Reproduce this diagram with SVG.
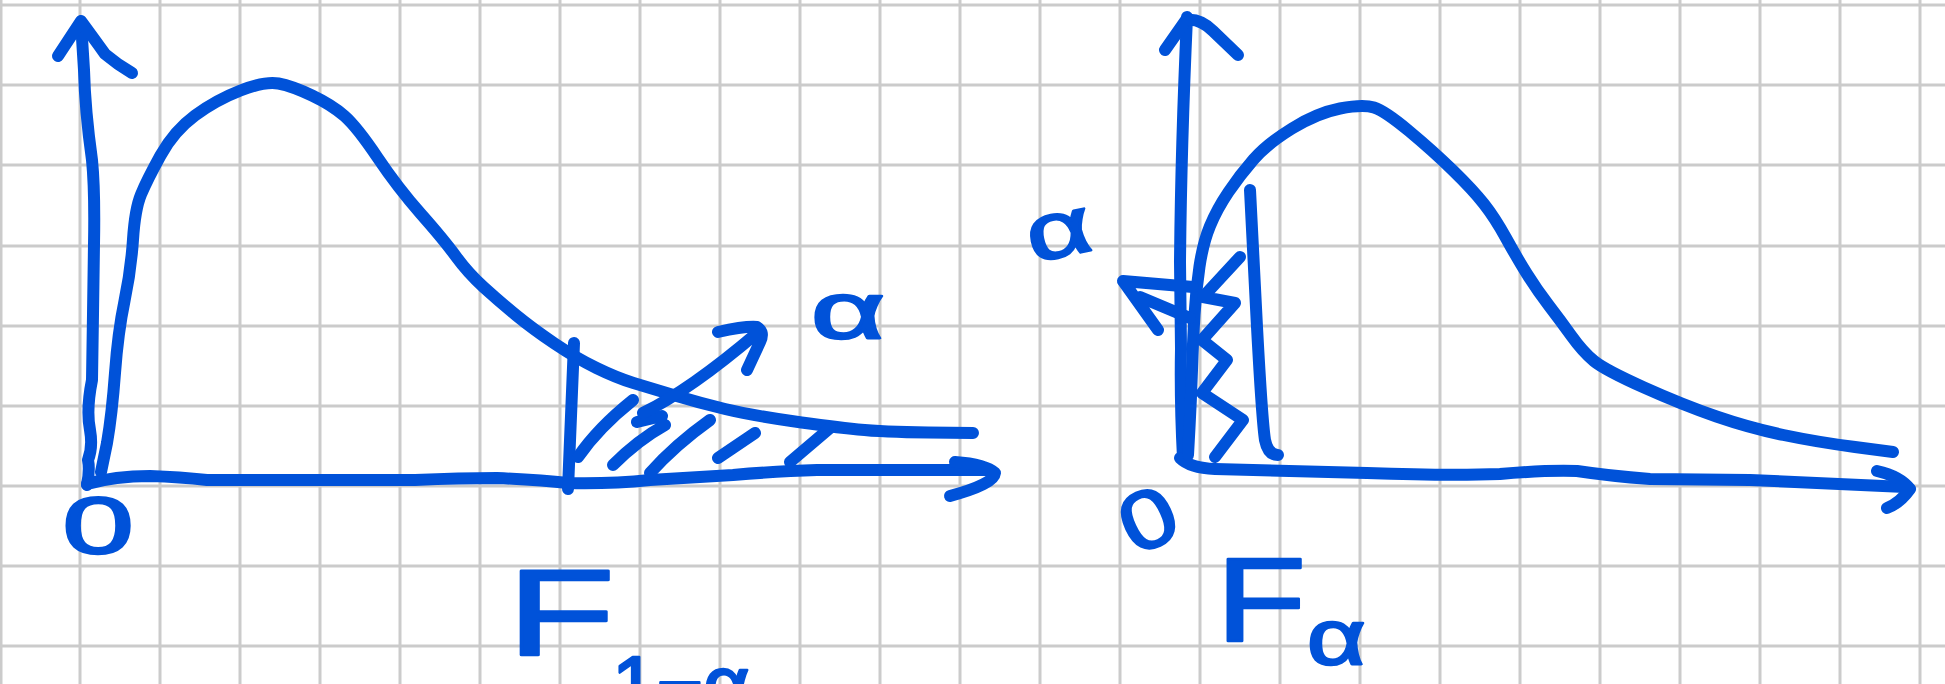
<svg xmlns="http://www.w3.org/2000/svg" width="1945" height="684" viewBox="0 0 1945 684">
<style>
.grid{stroke:#cbcbcb;stroke-width:3;fill:none}
.ink{stroke:#0052d9;stroke-width:12;fill:none;stroke-linecap:round;stroke-linejoin:round}
.lbl{font-family:"Liberation Sans","DejaVu Sans",sans-serif;fill:#0052d9;stroke:#0052d9;stroke-width:2.5;stroke-linejoin:round}
</style>
<rect width="1945" height="684" fill="#ffffff"/>
<g id="grid">
<path class="grid" d="M1,0V684M80,0V684M160,0V684M240,0V684M320,0V684M400,0V684M480,0V684M560,0V684M640,0V684M720,0V684M800,0V684M880,0V684M960,0V684M1040,0V684M1120,0V684M1200,0V684M1280,0V684M1360,0V684M1440,0V684M1520,0V684M1600,0V684M1680,0V684M1760,0V684M1840,0V684M1920,0V684"/>
<path class="grid" d="M0,5H1945M0,85H1945M0,165H1945M0,246H1945M0,326H1945M0,406H1945M0,486H1945M0,566H1945M0,646H1945"/>
</g>
<g id="left-plot">
<path class="ink" d="M87,485 Q90,470 88,460 Q93,447 90,430 Q86,410 92,380 L93,314 L94,244 Q95,190 92,160 Q85,110 84,70 L81,22"/>
<path class="ink" d="M58,56 L81,21 Q95,40 105,54 Q118,65 132,73"/>
<path class="ink" d="M87,484 Q115,476 150,476 Q180,477 207,480 L415,480 Q460,478 497,478 Q540,480 568,483 Q610,484 650,480 Q700,477 733,475 Q780,471 817,470 L988,470"/>
<path class="ink" d="M955,462 Q985,464 995,473 Q994,484 950,496"/>
<path class="ink" d="M101,472 L107,443 Q112,414 115,373 Q118,332 124.5,301 Q131,270 133,239.5 Q135,209 141,194.5 Q147,180 160.5,155.5 Q174,131 195,115.5 Q216,100 240.5,90.5 Q265,81 278.5,83.5 Q292,86 312,95.5 Q332,105 344.5,116 Q357,127 377.5,157.5 Q398,188 421,214 Q444,240 456,256.5 Q468,273 484,287.5 Q500,302 516.5,315.5 Q533,329 554.5,343.5 Q576,358 596.5,368 Q617,378 633.5,383 Q650,388 675,395.5 Q700,403 725,409 Q750,415 791.5,421 Q833,427 858,429.5 Q883,432 928,432.5 L973,433"/>
<path class="ink" d="M574,343 L568,489"/>
<path class="ink" d="M578,457 Q598,428 633,400 M613,465 Q638,440 665,425 M637,422 L662,416 M650,473 Q675,445 710,420 M718,458 L755,433 M790,462 L830,428"/>
<path class="ink" d="M643,413 Q690,390 757,333 M718,332 Q745,326 757,327 Q765,332 760,342 L747,370"/>
</g>
<g id="right-plot">
<path class="ink" d="M1183,458 Q1180,400 1181,349 L1180,262 Q1181,150 1187,17"/>
<path class="ink" d="M1165,50 L1186,20 Q1200,18 1213,31 L1238,55"/>
<path class="ink" d="M1180,458 Q1190,468 1215,469 L1367,473 Q1450,476 1500,474 Q1545,470 1577,471 Q1610,476 1650,479 L1750,480 L1905,487"/>
<path class="ink" d="M1877,471 Q1900,476 1910,489 Q1900,503 1887,508"/>
<path class="ink" d="M1188,455 L1189.5,427.5 Q1191,400 1192,370 Q1193,340 1194.5,315 Q1196,290 1199.5,266.5 Q1203,243 1210,226 Q1217,209 1228.5,192 Q1240,175 1253.5,159.5 Q1267,144 1292,128.5 Q1317,113 1340,108.5 Q1363,104 1374,107.5 Q1385,111 1409,131 Q1433,151 1453,170.5 Q1473,190 1484,204 Q1495,218 1506,238 Q1517,258 1527,274 Q1537,290 1548.5,305 Q1560,320 1571.5,336 Q1583,352 1594,361 Q1605,370 1644,387.5 Q1683,405 1716.5,416.5 Q1750,428 1783.5,435 Q1817,442 1855,447 L1893,452"/>
<path class="ink" d="M1250,190 L1257,327 Q1262,420 1265,440 Q1268,455 1278,455"/>
<path class="ink" d="M1240,257 L1203,297 L1235,303 L1202,340 L1227,360 L1202,393 L1243,420 L1215,457"/>
<path class="ink" d="M1193,287 L1123,281 L1158,330 M1140,297 L1190,318"/>
</g>
<g id="labels">
<text class="lbl" font-size="80" text-anchor="middle" transform="translate(98,553) scale(1.6,1)">0</text>
<text class="lbl" font-size="80" text-anchor="middle" transform="translate(848,338) scale(1.6,1)">α</text>
<text class="lbl" font-size="122" transform="translate(507,655) scale(1.45,1)">F</text>
<text class="lbl" font-size="80" x="612" y="712">1−α</text>
<text class="lbl" font-size="80" text-anchor="middle" transform="translate(1064,256) rotate(-12) scale(1.4,1)">α</text>
<text class="lbl" font-size="82" text-anchor="middle" transform="translate(1160,545) rotate(-25) scale(1.2,1)">0</text>
<text class="lbl" font-size="118" transform="translate(1216,641) scale(1.25,1)">F</text>
<text class="lbl" font-size="78" transform="translate(1307,664) scale(1.3,1)">α</text>
</g>
</svg>
